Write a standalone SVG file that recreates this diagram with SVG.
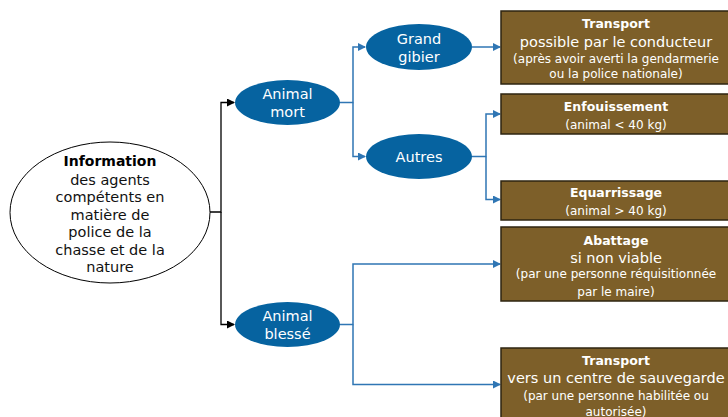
<svg xmlns="http://www.w3.org/2000/svg" width="728" height="417" viewBox="0 0 728 417">
<defs>
<style>
text{font-family:"DejaVu Sans","Noto Sans",sans-serif;text-anchor:middle}
.w{fill:#ffffff;font-size:14.5px}
.bt{fill:#ffffff;font-size:12.5px;font-weight:bold}
.bm{fill:#ffffff;font-size:14.5px}
.bs{fill:#ffffff;font-size:12px}
.k{fill:#111111;font-size:14.5px}
.kb{fill:#000000;font-size:14px;font-weight:bold}
.box{fill:#7D5F29;stroke:#2E2410;stroke-width:1.5}
.blue{fill:#0663A0}
.cb{fill:none;stroke:#2F76B4;stroke-width:1.5}
.ck{fill:none;stroke:#000000;stroke-width:1.3}
</style>
<marker id="ab" markerWidth="8" markerHeight="8" refX="7" refY="4" orient="auto" markerUnits="userSpaceOnUse"><path d="M0,0 L8,4 L0,8 Z" fill="#2F76B4"/></marker>
<marker id="ak" markerWidth="8" markerHeight="8" refX="7" refY="4" orient="auto" markerUnits="userSpaceOnUse"><path d="M0,0 L8,4 L0,8 Z" fill="#000000"/></marker>
</defs>
<rect width="728" height="417" fill="#ffffff"/>
<g id="connectors">
<path class="ck" d="M210,212 H221 V102.5 H234" marker-end="url(#ak)"/>
<path class="ck" d="M221,212 V324.5 H234" marker-end="url(#ak)"/>
<path class="cb" d="M340,102.5 H353 V47 H365" marker-end="url(#ab)"/>
<path class="cb" d="M353,102.5 V156.5 H365" marker-end="url(#ab)"/>
<path class="cb" d="M472,47 H500" marker-end="url(#ab)"/>
<path class="cb" d="M472,156.5 H486 V114 H500" marker-end="url(#ab)"/>
<path class="cb" d="M486,156.5 V199.5 H500" marker-end="url(#ab)"/>
<path class="cb" d="M340,324.5 H353 V264 H500" marker-end="url(#ab)"/>
<path class="cb" d="M353,324.5 V384.5 H500" marker-end="url(#ab)"/>
</g>
<g id="info">
<ellipse cx="110" cy="212.5" rx="100" ry="70.5" fill="#ffffff" stroke="#000000" stroke-width="1"/>
<text class="kb" x="110" y="166">Information</text>
<text class="k" x="110" y="185">des agents</text>
<text class="k" x="110" y="202">compétents en</text>
<text class="k" x="110" y="219.5">matière de</text>
<text class="k" x="110" y="237">police de la</text>
<text class="k" x="110" y="254.5">chasse et de la</text>
<text class="k" x="110" y="272">nature</text>
</g>
<g id="mort">
<ellipse class="blue" cx="287.5" cy="102.5" rx="52.5" ry="22.5"/>
<text class="w" x="287.5" y="99">Animal</text>
<text class="w" x="287.5" y="117">mort</text>
</g>
<g id="blesse">
<ellipse class="blue" cx="287.5" cy="324.5" rx="52.5" ry="22.5"/>
<text class="w" x="287.5" y="321">Animal</text>
<text class="w" x="287.5" y="339">blessé</text>
</g>
<g id="gibier">
<ellipse class="blue" cx="419" cy="47" rx="53" ry="23"/>
<text class="w" x="419" y="44">Grand</text>
<text class="w" x="419" y="62">gibier</text>
</g>
<g id="autres">
<ellipse class="blue" cx="419" cy="156.5" rx="53" ry="22.5"/>
<text class="w" x="419" y="161.5">Autres</text>
</g>
<g id="transport1">
<rect class="box" x="501" y="11" width="232" height="73"/>
<text class="bt" x="616" y="27.5">Transport</text>
<text class="bm" x="616" y="47">possible par le conducteur</text>
<text class="bs" x="616" y="62.5">(après avoir averti la gendarmerie</text>
<text class="bs" x="616" y="77.5">ou la police nationale)</text>
</g>
<g id="enfouissement">
<rect class="box" x="501" y="94" width="232" height="40"/>
<text class="bt" x="616" y="110.5">Enfouissement</text>
<text class="bs" x="616" y="129">(animal &lt; 40 kg)</text>
</g>
<g id="equarrissage">
<rect class="box" x="501" y="181" width="232" height="39"/>
<text class="bt" x="616" y="196.5">Equarrissage</text>
<text class="bs" x="616" y="214.5">(animal &gt; 40 kg)</text>
</g>
<g id="abattage">
<rect class="box" x="501" y="227" width="232" height="74"/>
<text class="bt" x="616" y="244.5">Abattage</text>
<text class="bm" x="616" y="263">si non viable</text>
<text class="bs" x="616" y="277.5">(par une personne réquisitionnée</text>
<text class="bs" x="616" y="295.5">par le maire)</text>
</g>
<g id="transport2">
<rect class="box" x="501" y="348" width="232" height="75"/>
<text class="bt" x="616" y="364.5">Transport</text>
<text class="bm" x="616" y="383">vers un centre de sauvegarde</text>
<text class="bs" x="616" y="399.5">(par une personne habilitée ou</text>
<text class="bs" x="616" y="415.5">autorisée)</text>
</g>
</svg>
